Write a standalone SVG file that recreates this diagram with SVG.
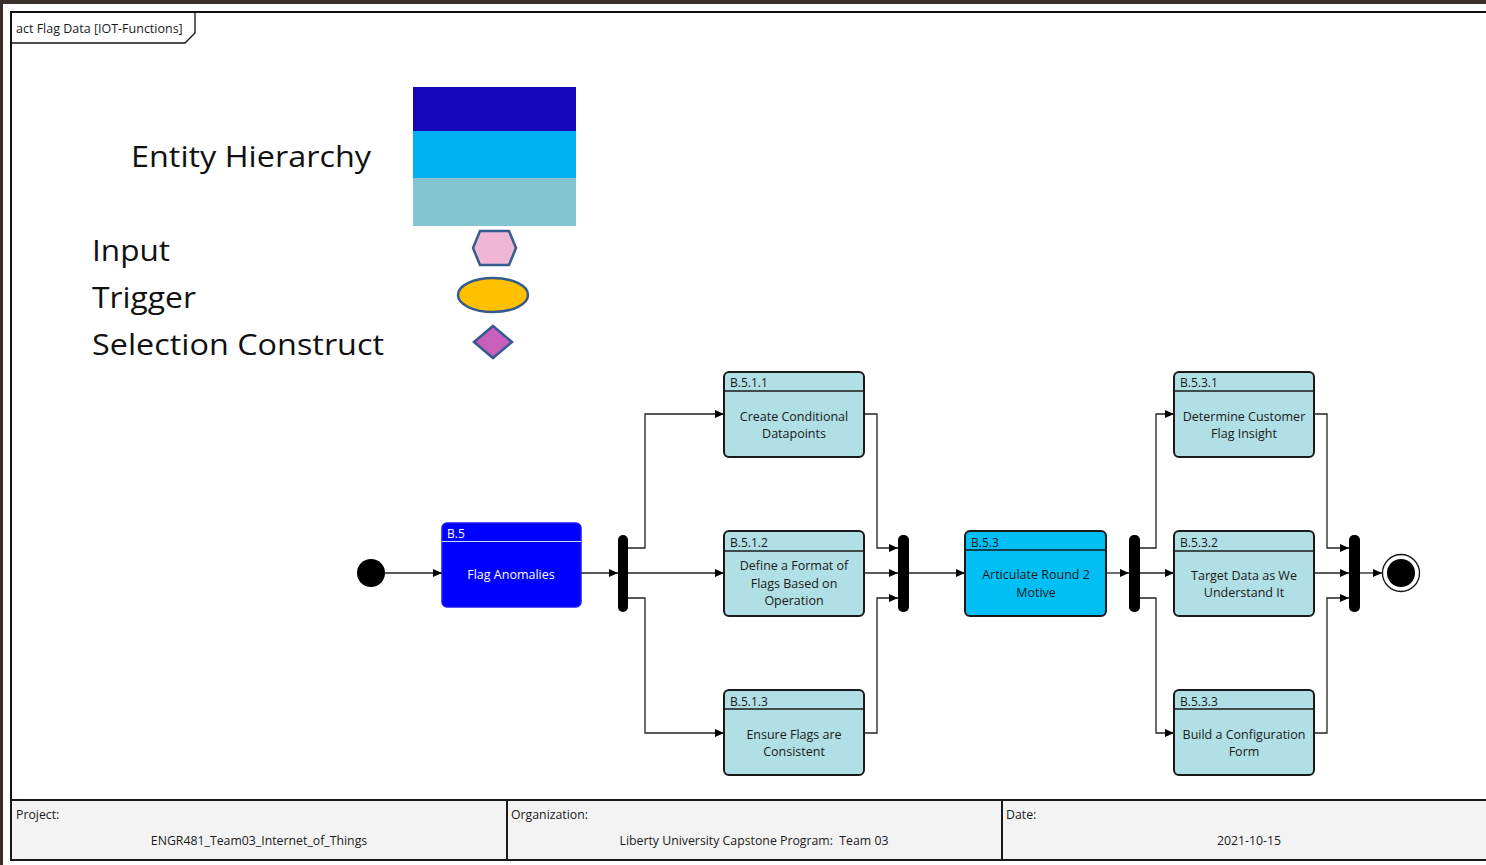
<svg xmlns="http://www.w3.org/2000/svg" width="1486" height="865" viewBox="0 0 1486 865">
<defs>
<style>
.t{font-family:"Open Sans","Liberation Sans",sans-serif;}
.act{fill:#b0dfe5;stroke:#1a1a1a;stroke-width:2;}
.sep{stroke:#1a1a1a;stroke-width:1.3;}
.hdr{font-family:"Open Sans","Liberation Sans",sans-serif;font-size:12px;fill:#1a1a1a;}
.lbl{font-family:"Open Sans","Liberation Sans",sans-serif;font-size:12.5px;fill:#1a1a1a;text-anchor:middle;}
.bar{fill:#000;}
.conn path{fill:none;stroke:#222;stroke-width:1.3;marker-end:url(#arr);}
.leg{font-family:"Open Sans","Liberation Sans",sans-serif;font-size:29px;fill:#111;}
.ft{font-family:"Open Sans","Liberation Sans",sans-serif;font-size:12.3px;fill:#1a1a1a;}
.box{fill:#f3f3f3;stroke:#1a1a1a;stroke-width:2;}
</style>
<marker id="arr" markerUnits="userSpaceOnUse" markerWidth="9" markerHeight="8" refX="9" refY="4" orient="auto">
<path d="M0,0 L9,4 L0,8 z" fill="#000"/>
</marker>
</defs>
<rect width="1486" height="865" fill="#fff"/>
<rect x="0" y="0" width="1486" height="4" fill="#3b3029"/>
<rect x="0" y="0" width="3" height="865" fill="#3b3029"/>

<g id="frame">
<path d="M11,800 V12 H1490" fill="none" stroke="#111" stroke-width="2"/>
<path d="M11,43 H185 L195,33 V12" fill="none" stroke="#111" stroke-width="1.3"/>
<text class="t" x="16" y="33" font-size="12.5" fill="#1a1a1a">act Flag Data [IOT-Functions]</text>
</g>

<g id="legend">
<text class="leg" x="131" y="167" textLength="240" lengthAdjust="spacingAndGlyphs">Entity Hierarchy</text>
<rect x="413" y="87" width="163" height="44" fill="#1407bb"/>
<rect x="413" y="131" width="163" height="47" fill="#00b0f0"/>
<rect x="413" y="178" width="163" height="48" fill="#85c5d1"/>
<text class="leg" x="92" y="261" textLength="78" lengthAdjust="spacingAndGlyphs">Input</text>
<text class="leg" x="92" y="308" textLength="104" lengthAdjust="spacingAndGlyphs">Trigger</text>
<text class="leg" x="92" y="355" textLength="292" lengthAdjust="spacingAndGlyphs">Selection Construct</text>
<polygon points="480,231 509,231 516,248 509,265 480,265 473,248" fill="#f0b6d6" stroke="#355a8e" stroke-width="2.5"/>
<ellipse cx="493" cy="295" rx="35" ry="17" fill="#ffc000" stroke="#355a8e" stroke-width="2.5"/>
<polygon points="493,326 512,342 493,358 474,342" fill="#c95fbd" stroke="#355a8e" stroke-width="2.5"/>
</g>

<g id="initial"><circle cx="371" cy="573" r="14" fill="#000"/></g>

<g id="B5">
<rect x="442" y="523" width="139" height="84" rx="5" fill="#0000ff" stroke="#1a1aff" stroke-width="1.5"/>
<line x1="442" y1="541.5" x2="581" y2="541.5" stroke="#c8d8ff" stroke-width="1.2"/>
<text class="hdr" x="447" y="538" style="fill:#fff">B.5</text>
<text class="lbl" x="511" y="579" style="fill:#fff">Flag Anomalies</text>
</g>

<g id="fork1"><rect class="bar" x="618" y="535" width="10" height="77" rx="5"/></g>

<g id="B511">
<rect class="act" x="724" y="372" width="140" height="85" rx="5"/>
<line class="sep" x1="724" y1="391" x2="864" y2="391"/>
<text class="hdr" x="730" y="387">B.5.1.1</text>
<text class="lbl" x="794" y="421">Create Conditional</text>
<text class="lbl" x="794" y="438">Datapoints</text>
</g>

<g id="B512">
<rect class="act" x="724" y="531" width="140" height="85" rx="5"/>
<line class="sep" x1="724" y1="551" x2="864" y2="551"/>
<text class="hdr" x="730" y="547">B.5.1.2</text>
<text class="lbl" x="794" y="570">Define a Format of</text>
<text class="lbl" x="794" y="588">Flags Based on</text>
<text class="lbl" x="794" y="605">Operation</text>
</g>

<g id="B513">
<rect class="act" x="724" y="690" width="140" height="85" rx="5"/>
<line class="sep" x1="724" y1="709" x2="864" y2="709"/>
<text class="hdr" x="730" y="706">B.5.1.3</text>
<text class="lbl" x="794" y="739">Ensure Flags are</text>
<text class="lbl" x="794" y="756">Consistent</text>
</g>

<g id="join1"><rect class="bar" x="898" y="535" width="11" height="77" rx="5"/></g>

<g id="B53">
<rect x="965" y="531" width="141" height="85" rx="5" fill="#00bff5" stroke="#1a1a1a" stroke-width="2"/>
<line class="sep" x1="965" y1="550" x2="1106" y2="550"/>
<text class="hdr" x="971" y="547">B.5.3</text>
<text class="lbl" x="1036" y="579">Articulate Round 2</text>
<text class="lbl" x="1036" y="597">Motive</text>
</g>

<g id="fork2"><rect class="bar" x="1129" y="535" width="11" height="77" rx="5"/></g>

<g id="B531">
<rect class="act" x="1174" y="372" width="140" height="85" rx="5"/>
<line class="sep" x1="1174" y1="391" x2="1314" y2="391"/>
<text class="hdr" x="1180" y="387">B.5.3.1</text>
<text class="lbl" x="1244" y="421">Determine Customer</text>
<text class="lbl" x="1244" y="438">Flag Insight</text>
</g>

<g id="B532">
<rect class="act" x="1174" y="531" width="140" height="85" rx="5"/>
<line class="sep" x1="1174" y1="551" x2="1314" y2="551"/>
<text class="hdr" x="1180" y="547">B.5.3.2</text>
<text class="lbl" x="1244" y="580">Target Data as We</text>
<text class="lbl" x="1244" y="597">Understand It</text>
</g>

<g id="B533">
<rect class="act" x="1174" y="690" width="140" height="85" rx="5"/>
<line class="sep" x1="1174" y1="709" x2="1314" y2="709"/>
<text class="hdr" x="1180" y="706">B.5.3.3</text>
<text class="lbl" x="1244" y="739">Build a Configuration</text>
<text class="lbl" x="1244" y="756">Form</text>
</g>

<g id="join2"><rect class="bar" x="1349" y="535" width="11" height="77" rx="5"/></g>

<g id="final">
<circle cx="1401" cy="573" r="18.5" fill="#fff" stroke="#111" stroke-width="1.3"/>
<circle cx="1401" cy="573" r="14" fill="#000"/>
</g>

<g id="connectors" class="conn">
<path d="M385,573 H442"/>
<path d="M581,573 H618"/>
<path d="M628,548 H645 V414 H724"/>
<path d="M628,573 H724"/>
<path d="M628,598 H645 V733 H724"/>
<path d="M864,414 H877 V548 H898"/>
<path d="M864,573 H898"/>
<path d="M864,733 H877 V598 H898"/>
<path d="M909,573 H965"/>
<path d="M1106,573 H1129"/>
<path d="M1140,548 H1156 V414 H1174"/>
<path d="M1140,573 H1174"/>
<path d="M1140,598 H1156 V733 H1174"/>
<path d="M1314,414 H1327 V548 H1349"/>
<path d="M1314,573 H1349"/>
<path d="M1314,733 H1327 V598 H1349"/>
<path d="M1360,573 H1382"/>
</g>

<g id="footer">
<rect class="box" x="11" y="800" width="496" height="60"/>
<rect class="box" x="507" y="800" width="495" height="60"/>
<rect class="box" x="1002" y="800" width="490" height="60"/>
<text class="ft" x="16" y="819">Project:</text>
<text class="ft" x="259" y="845" text-anchor="middle">ENGR481_Team03_Internet_of_Things</text>
<text class="ft" x="511" y="819">Organization:</text>
<text class="ft" x="754" y="845" text-anchor="middle" xml:space="preserve">Liberty University Capstone Program:  Team 03</text>
<text class="ft" x="1006" y="819">Date:</text>
<text class="ft" x="1249" y="845" text-anchor="middle">2021-10-15</text>
</g>
</svg>
